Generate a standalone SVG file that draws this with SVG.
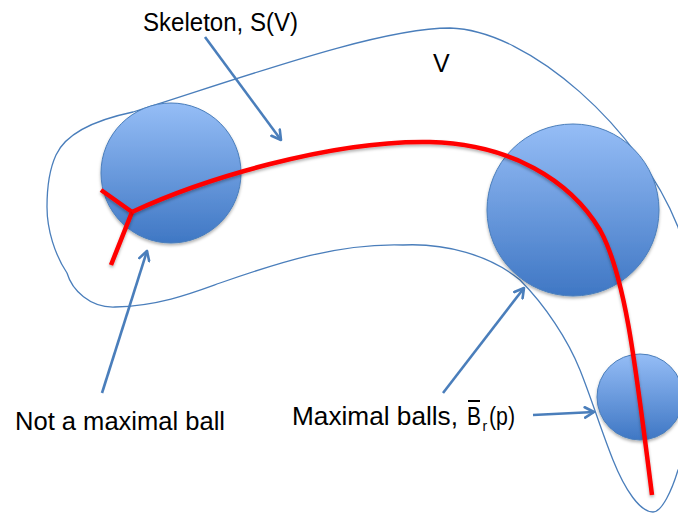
<svg xmlns="http://www.w3.org/2000/svg" width="678" height="519" viewBox="0 0 678 519">
<defs>
<linearGradient id="ball" x1="0" y1="0" x2="0" y2="1">
<stop offset="0" stop-color="#95bdf6"/>
<stop offset="1" stop-color="#3f77c4"/>
</linearGradient>
<filter id="sh" x="-20%" y="-20%" width="140%" height="140%">
<feDropShadow dx="0" dy="2" stdDeviation="1.5" flood-color="#000" flood-opacity="0.3"/>
</filter>
<marker id="ah" viewBox="0 0 10 10" refX="8" refY="5" markerWidth="5" markerHeight="5" orient="auto" markerUnits="strokeWidth">
<polyline points="1,1 8,5 1,9" fill="none" stroke="#4a7ebb" stroke-width="2" stroke-linecap="round" stroke-linejoin="round"/>
</marker>
<style>
.ball{fill:url(#ball);stroke:#4a7ebb;stroke-width:1;filter:url(#sh)}
.outline{fill:none;stroke:#4a7ebb;stroke-width:1.3}
.skel{fill:none;stroke:#ff0000;stroke-width:4.5;stroke-linecap:butt;stroke-linejoin:miter;filter:url(#sh)}
.arr{fill:none;stroke:#4a7ebb;stroke-width:2.6;marker-end:url(#ah)}
.lbl{font-family:"Liberation Sans",Arial,sans-serif;font-size:25px;fill:#000}
</style>
</defs>
<rect width="678" height="519" fill="#fff"/>
<g id="volume">
<path class="outline" d="M133,112 C250,75 380,28 450,28 C530,30 640,130 678,227 L700,300 L700,440 L678,470 C672,490 662,512 653,512 C640,512 625,490 613,460 C601,430 592,400 580,370 C568,340 545,305 520,280 C490,255 445,243 403,245 C340,243 280,262 220,283 C195,292 160,306 115,307 C90,308 72,290 67,273 C55,255 47,230 47,207 C47,185 50,168 56,155 C66,133 95,120 133,112 Z"/>
<text class="lbl" x="433" y="72">V</text>
</g>
<g id="ball-left">
<circle class="ball" cx="171" cy="173" r="70"/>
</g>
<g id="ball-big">
<circle class="ball" cx="573" cy="210" r="86"/>
</g>
<g id="ball-small">
<circle class="ball" cx="640" cy="397" r="43"/>
</g>
<g id="skeleton">
<path class="skel" d="M101,190 L132,212 L111,265"/>
<path class="skel" d="M132,212 C200,180 330,140 430,142 C510,144 570,180 600,230 C625,275 635,360 652,495"/>
</g>
<g id="connectors">
<line class="arr" x1="205" y1="37" x2="281" y2="140"/>
<line class="arr" x1="102" y1="393" x2="147" y2="251"/>
<line class="arr" x1="443" y1="393" x2="524" y2="288"/>
<line class="arr" x1="533" y1="415" x2="594" y2="412"/>
</g>
<g id="labels">
<text class="lbl" x="143" y="31" textLength="155" lengthAdjust="spacingAndGlyphs">Skeleton, S(V)</text>
<text class="lbl" x="15" y="430" textLength="210" lengthAdjust="spacingAndGlyphs">Not a maximal ball</text>
<text class="lbl" x="292" y="425" textLength="166" lengthAdjust="spacingAndGlyphs">Maximal balls,</text>
<text class="lbl" x="467" y="425" textLength="14" lengthAdjust="spacingAndGlyphs">B</text>
<line x1="468" y1="401" x2="480" y2="401" stroke="#000" stroke-width="2"/>
<text class="lbl" x="482.5" y="431" style="font-size:14px">r</text>
<text class="lbl" x="489" y="425" textLength="26" lengthAdjust="spacingAndGlyphs">(p)</text>
</g>
</svg>
